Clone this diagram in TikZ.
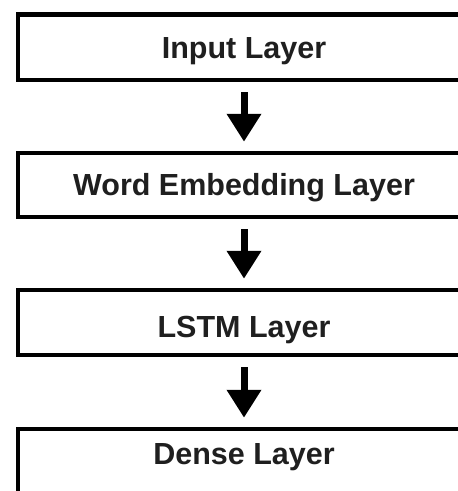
\documentclass[tikz,border=0pt]{standalone}
\usepackage{fontspec}
\setmainfont{Liberation Sans}
\usetikzlibrary{arrows.meta}
\tikzset{
  layerbox/.style={draw=black, line width=4.5pt, fill=white, rectangle, inner sep=0pt,
    minimum width=452pt, anchor=base, text=black!88,
    font=\fontsize{30.5}{36}\selectfont\bfseries},
  flowarrow/.style={line width=7pt, -{Triangle[width=33pt,length=28pt]},
    shorten <=10pt, shorten >=9pt}
}
\begin{document}
\begin{tikzpicture}[x=1pt,y=1pt]
\useasboundingbox (0,0) rectangle (458,-491);
\clip (0,0) rectangle (458,-491);
\fill[white] (0,0) rectangle (458,-491);
\node[layerbox, text height=43.8pt, text depth=21.7pt] (b1) at (244,-58.3) {Input Layer};
\node[layerbox, text height=42pt, text depth=22pt] (b2) at (244,-195) {Word Embedding Layer};
\node[layerbox, text height=47pt, text depth=18pt] (b3) at (244,-337) {LSTM Layer};
\node[layerbox, text height=35pt, text depth=56pt] (b4) at (244,-464) {Dense Layer};
\draw[flowarrow] (b1.south) -- (b2.north);
\draw[flowarrow] (b2.south) -- (b3.north);
\draw[flowarrow] (b3.south) -- (b4.north);
\end{tikzpicture}
\end{document}
